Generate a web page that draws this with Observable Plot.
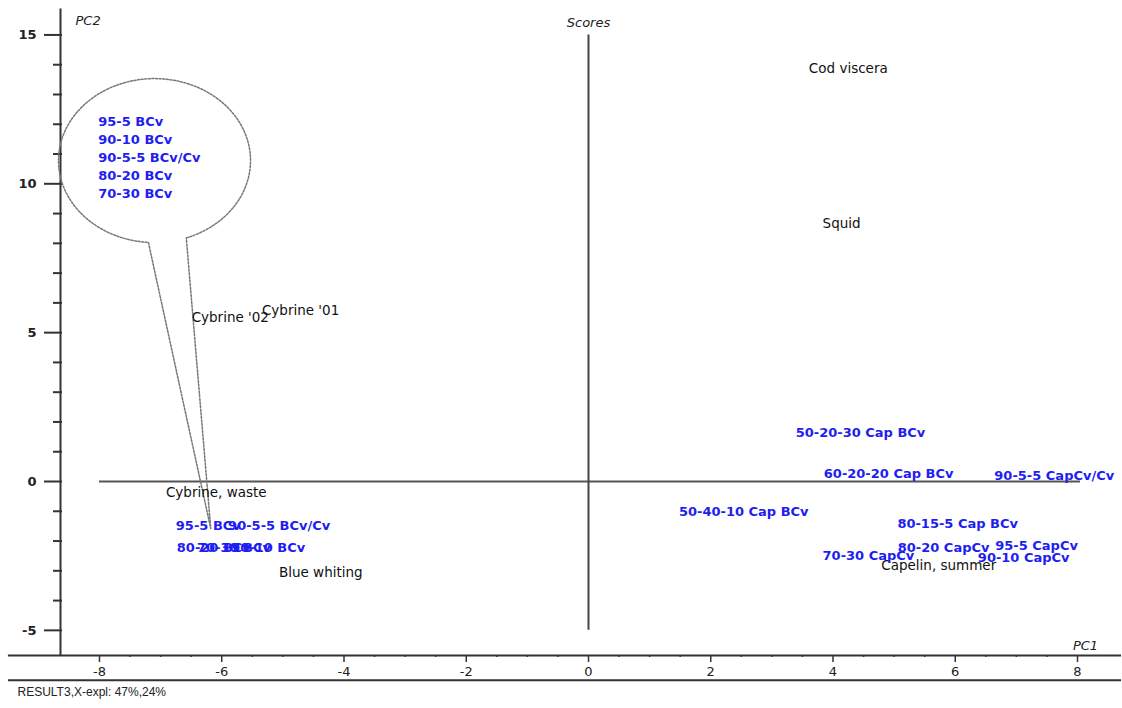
<!DOCTYPE html>
<html>
<head>
<meta charset="utf-8">
<script src="https://cdn.jsdelivr.net/npm/d3@7"></script>
<script src="https://cdn.jsdelivr.net/npm/@observablehq/plot@0.6"></script>
<style>
  html, body { margin: 0; padding: 0; background: #fff; }
  #chart svg { display: block; }
</style>
</head>
<body>
<div id="chart"></div>
<script>
// ---- data (PCA scores) ----
const sampleNames = [
  "Cod viscera", "Squid", "Cybrine '02", "Cybrine '01", "Cybrine, waste",
  "Blue whiting", "Capelin, summer",
  "50-20-30 Cap BCv", "60-20-20 Cap BCv", "90-5-5 CapCv/Cv", "50-40-10 Cap BCv",
  "80-15-5 Cap BCv", "80-20 CapCv", "95-5 CapCv", "90-10 CapCv", "70-30 CapCv",
  "95-5 BCv", "90-5-5 BCv/Cv", "80-20 BCv", "70-30 BCv", "90-10 BCv"
];
const pc1 = [
  4.25, 4.14, -5.86, -4.71, -6.09,
  -4.38, 5.73,
  4.45, 4.91, 7.62, 2.54,
  6.04, 5.81, 7.33, 7.12, 4.58,
  -6.22, -5.06, -6.13, -5.80, -5.24
];
const pc2 = [
  13.87, 8.67, 5.51, 5.74, -0.37,
  -3.06, -2.82,
  1.65, 0.27, 0.20, -1.01,
  -1.41, -2.22, -2.15, -2.55, -2.49,
  -1.48, -1.48, -2.22, -2.22, -2.22
];
const sampleType = [
  "raw", "raw", "raw", "raw", "raw",
  "raw", "raw",
  "blend", "blend", "blend", "blend",
  "blend", "blend", "blend", "blend", "blend",
  "blend", "blend", "blend", "blend", "blend"
];

// callout (magnified labels of the crowded blue-whiting blends)
const balloonNames = ["95-5 BCv", "90-10 BCv", "90-5-5 BCv/Cv", "80-20 BCv", "70-30 BCv"];
const balloonPc2 = [12.09, 11.49, 10.88, 10.28, 9.67];
const balloonPc1 = -8.02;

// axis ticks
const xMajor = [-8, -6, -4, -2, 0, 2, 4, 6, 8];
const xMinor = [-7.5, -7, -6.5, -5.5, -5, -4.5, -3.5, -3, -2.5, -1.5, -1, -0.5,
                0.5, 1, 1.5, 2.5, 3, 3.5, 4.5, 5, 5.5, 6.5, 7, 7.5];
const yMajor = [-5, 0, 5, 10, 15];
const yMinor = [-4, -3, -2, -1, 1, 2, 3, 4, 6, 7, 8, 9, 11, 12, 13, 14];

const caption = "RESULT3,X-expl: 47%,24%";

// ---- build ----
const samples = sampleNames.map((name, i) => ({name, pc1: pc1[i], pc2: pc2[i], type: sampleType[i]}));
const balloonLabels = balloonNames.map((name, i) => ({name, pc1: balloonPc1, pc2: balloonPc2[i]}));

// callout balloon shape (ellipse with a tail to the cluster), in data units
const bc = {x: -7.10, y: 10.78, rx: 1.571, ry: 2.754};
const tailLeftX = -7.20, tailRightX = -6.58, tip = {x: -6.18, y: -1.58};
const thL = -Math.acos((tailLeftX - bc.x) / bc.rx);
const thR = -Math.acos((tailRightX - bc.x) / bc.rx);
const balloon = [];
const N = 160;
for (let k = 0; k <= N; k++) {
  const t = thR + (thL + 2 * Math.PI - thR) * k / N;
  balloon.push({x: bc.x + bc.rx * Math.cos(t), y: bc.y + bc.ry * Math.sin(t)});
}
balloon.push({x: tip.x, y: tip.y});
balloon.push(balloon[0]);

const axisColor = "#333";
const yAxisX = -8.638, yAxisTop = 15.87, axisBottom = -5.845, axisBottom2 = -6.68;
const xLeft = -9.49, xRight = 8.72;

const chart = Plot.plot({
  width: 1122,
  height: 708,
  marginLeft: 62,
  marginTop: 8,
  marginRight: 7,
  marginBottom: 53,
  style: {fontFamily: "'DejaVu Sans', sans-serif", background: "#fff"},
  x: {domain: [-8, 8], range: [99, 1077], axis: null},
  y: {domain: [-5, 15], range: [629.85, 34.45], axis: null},
  marks: [
    // axis lines
    Plot.ruleX([yAxisX], {y1: axisBottom, y2: yAxisTop, stroke: axisColor, strokeWidth: 2}),
    Plot.ruleY([axisBottom], {x1: xLeft, x2: xRight, stroke: axisColor, strokeWidth: 2}),
    Plot.ruleY([axisBottom2], {x1: xLeft, x2: xRight, stroke: axisColor, strokeWidth: 2}),
    // ticks
    Plot.axisY(yMajor, {anchor: "left", tickSize: 18, tickPadding: 8, strokeWidth: 2, stroke: axisColor,
      fontSize: 13, fontWeight: "bold", fill: "#222", tickFormat: d => `${d}`, label: null}),
    Plot.axisY(yMinor, {anchor: "left", tickSize: 9, strokeWidth: 2, stroke: axisColor, tickFormat: () => "", label: null}),
    Plot.axisX(xMajor, {anchor: "bottom", tickSize: 7, tickPadding: 4, strokeWidth: 1.5, stroke: axisColor,
      fontSize: 13, fill: "#222", tickFormat: d => `${d}`, label: null}),
    Plot.axisX(xMinor, {anchor: "bottom", tickSize: 2, strokeWidth: 1.5, stroke: axisColor, tickFormat: () => "", label: null}),
    // origin cross
    Plot.ruleY([0], {x1: -8, x2: 8.05, stroke: "#555", strokeWidth: 2}),
    Plot.ruleX([0], {y1: -5, y2: 15, stroke: "#444", strokeWidth: 2}),
    // callout balloon
    Plot.line(balloon, {x: "x", y: "y", stroke: "#777", strokeWidth: 1.5, strokeDasharray: "2,1.6", curve: "linear"}),
    Plot.text(balloonLabels, {x: "pc1", y: "pc2", text: "name", textAnchor: "start",
      fill: "#1e1ef0", fontSize: 13, fontWeight: "bold"}),
    // sample scores
    Plot.text(samples.filter(d => d.type === "raw"), {x: "pc1", y: "pc2", text: "name",
      fill: "#111", fontSize: 13.5}),
    Plot.text(samples.filter(d => d.type === "blend"), {x: "pc1", y: "pc2", text: "name",
      fill: "#1e1ef0", fontSize: 13, fontWeight: "bold"}),
    // titles
    Plot.text(["Scores"], {x: 0, frameAnchor: "top", dy: 9, fontStyle: "italic", fontSize: 13, fill: "#222"}),
    Plot.text(["PC2"], {frameAnchor: "top-left", dx: 13, dy: 12, lineAnchor: "middle", textAnchor: "start",
      fontStyle: "italic", fontSize: 13, fill: "#222"}),
    Plot.text(["PC1"], {frameAnchor: "bottom-right", dx: -30, dy: -10, lineAnchor: "middle", textAnchor: "middle",
      fontStyle: "italic", fontSize: 13, fill: "#222"}),
    Plot.text([caption], {frameAnchor: "bottom-left", dx: -45, dy: 37, lineAnchor: "middle", textAnchor: "start",
      fontSize: 12, fill: "#222", fontFamily: "'Liberation Sans Narrow', 'Liberation Sans', sans-serif"})
  ]
});
document.getElementById("chart").append(chart);
</script>
</body>
</html>
